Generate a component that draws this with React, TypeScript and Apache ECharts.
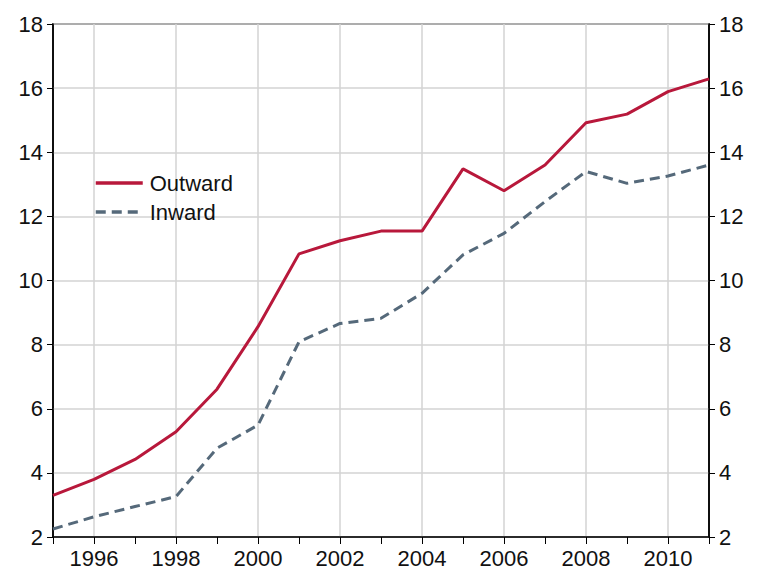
import React, { useEffect, useRef } from "react";
import * as echarts from "echarts";

const years = ["1995","1996","1997","1998","1999","2000","2001","2002","2003","2004","2005","2006","2007","2008","2009","2010","2011"];
const outward = [3.3, 3.8, 4.42, 5.28, 6.61, 8.56, 10.83, 11.24, 11.54, 11.54, 13.48, 12.8, 13.6, 14.92, 15.19, 15.89, 16.29];
const inward = [2.25, 2.63, 2.95, 3.26, 4.77, 5.49, 8.09, 8.66, 8.82, 9.6, 10.8, 11.47, 12.46, 13.4, 13.03, 13.26, 13.6];
const yMin = 2;
const yMax = 18;
const yStep = 2;

export default function App() {
  const ref = useRef<HTMLDivElement>(null);
  useEffect(() => {
    if (!ref.current) return;
    const chart = echarts.init(ref.current, undefined, { renderer: "svg" });
    const font = "'Liberation Sans', Arial, sans-serif";
    const isEven = (idx: number) => Number(years[idx]) % 2 === 0;
    const yAxisCommon = {
      type: "value" as const,
      min: yMin,
      max: yMax,
      interval: yStep,
      axisLine: { show: true, lineStyle: { color: "#000", width: 1.5 } },
      axisTick: { show: true, length: 6, lineStyle: { color: "#000", width: 1 } },
      axisLabel: { color: "#111", fontSize: 22, fontFamily: font, margin: 10 },
    };
    chart.setOption({
      animation: false,
      backgroundColor: "#fff",
      grid: {
        left: 53,
        right: 52,
        top: 24,
        bottom: 40,
        show: true,
        borderColor: "#000",
        borderWidth: 1.5,
        backgroundColor: "transparent",
      },
      legend: {
        orient: "vertical",
        left: 89,
        top: 167,
        itemWidth: 47,
        itemHeight: 22,
        itemGap: 7,
        itemStyle: { opacity: 0 },
        lineStyle: { width: 3.5 },
        textStyle: { color: "#111", fontSize: 22, fontFamily: font, padding: [0, 0, 0, 2] },
        data: ["Outward", "Inward"],
      },
      xAxis: {
        type: "category",
        data: years,
        boundaryGap: false,
        axisLine: { show: true, lineStyle: { color: "#000", width: 1.5 } },
        axisTick: { show: true, interval: 0, length: 7, lineStyle: { color: "#000", width: 1 } },
        axisLabel: {
          color: "#111",
          fontSize: 22,
          fontFamily: font,
          margin: 10,
          interval: (idx: number) => isEven(idx),
        },
        splitLine: {
          show: true,
          interval: (idx: number) => isEven(idx),
          lineStyle: { color: "#d3d3d3", width: 1.5 },
        },
      },
      yAxis: [
        {
          ...yAxisCommon,
          position: "left",
          splitLine: { show: true, lineStyle: { color: "#d3d3d3", width: 1.5 } },
        },
        {
          ...yAxisCommon,
          position: "right",
          splitLine: { show: false },
        },
      ],
      series: [
        {
          name: "Outward",
          type: "line",
          data: outward,
          symbol: "none",
          lineStyle: { color: "#B8183B", width: 3 },
          itemStyle: { color: "#B8183B" },
          z: 3,
        },
        {
          name: "Inward",
          type: "line",
          data: inward,
          symbol: "none",
          lineStyle: { color: "#55697A", width: 3, type: [10, 6] },
          itemStyle: { color: "#55697A" },
          z: 2,
        },
      ],
    });
    return () => chart.dispose();
  }, []);
  return <div ref={ref} style={{ width: 761, height: 577, position: "absolute", left: 0, top: 0 }} />;
}
